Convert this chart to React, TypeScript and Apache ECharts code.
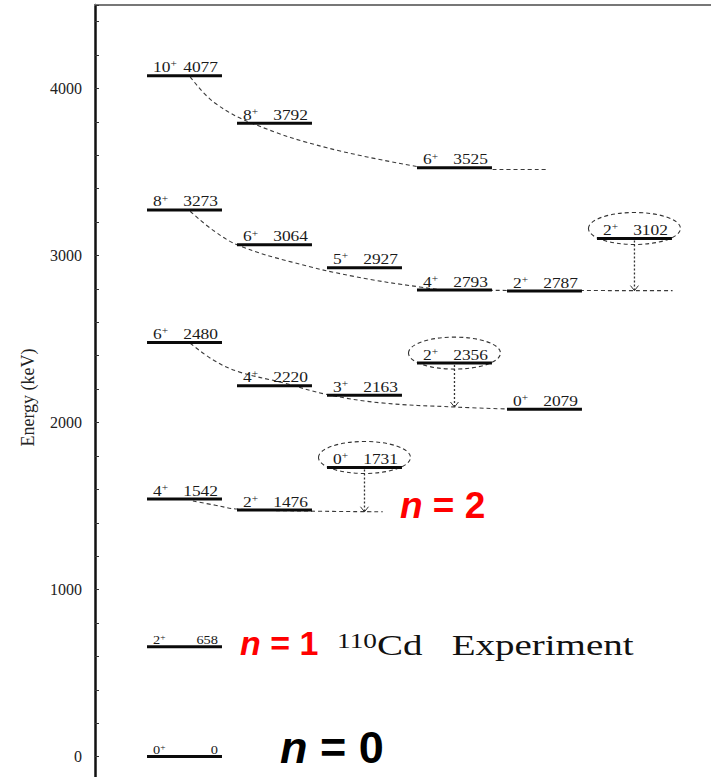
import React, { useEffect, useRef } from "react";
import * as echarts from "echarts";

// ---- Data ----
const levelCols = [0, 0, 0, 0, 0, 0, 1, 1, 1, 1, 2, 2, 2, 3, 3, 3, 4, 4, 5];
const levelEnergies = [0, 658, 1542, 2480, 3273, 4077, 1476, 2220, 3064, 3792, 1731, 2163, 2927, 2356, 2793, 3525, 2079, 2787, 3102];
const levelSpins = ["0", "2", "4", "6", "8", "10", "2", "4", "6", "8", "0", "3", "5", "2", "4", "6", "0", "2", "2"];

// circled levels and the energy their dotted decay line ends at
const circledCols = [2, 3, 5];
const circledEnergies = [1731, 2356, 3102];
const decayEndEnergies = [1466, 2093, 2790];

// dashed band curves: [column position, energy keV]
const band1 = [[0.48, 4070], [0.75, 3915], [1.2, 3785], [2.0, 3645], [3.03, 3530]];
const band1Tail = [[3.84, 3515], [4.44, 3515]];
const band2 = [[0.48, 3265], [0.75, 3145], [1.03, 3058], [1.6, 2962], [2.3, 2875], [3.03, 2812], [3.4, 2792], [5.84, 2790]];
const band3 = [[0.48, 2475], [0.75, 2370], [1.03, 2302], [1.5, 2240], [2.0, 2168], [2.6, 2118], [3.42, 2093], [4.01, 2081]];
const band4 = [[0.51, 1530], [0.76, 1505], [1.0, 1482], [1.8, 1470], [2.62, 1466]];

const yTickLabels = [0, 1000, 2000, 3000, 4000];

const LEVEL_W = 0.833;

export default function App() {
  const ref = useRef<HTMLDivElement>(null);
  useEffect(() => {
    if (!ref.current) return;
    const chart = echarts.init(ref.current, null, { renderer: "svg" });
    const serif = "Liberation Serif";
    const sans = "Liberation Sans";

    const dashLine = (data: number[][]) => ({
      type: "line",
      data,
      smooth: 0.4,
      symbol: "none",
      silent: true,
      lineStyle: { color: "#3a3a3a", width: 1.1, type: [4, 3] },
      z: 2,
    });

    const option: any = {
      animation: false,
      backgroundColor: "#ffffff",
      grid: { left: 95, right: 0, top: 5, bottom: 20 },
      xAxis: {
        type: "value",
        position: "top",
        min: -0.578,
        max: 6.267,
        axisLine: { show: true, onZero: false, lineStyle: { color: "#777", width: 2 } },
        axisTick: { show: false },
        axisLabel: { show: false },
        splitLine: { show: false },
      },
      yAxis: {
        type: "value",
        min: -200,
        max: 4500,
        interval: 200,
        name: "Energy (keV)",
        nameLocation: "middle",
        nameRotate: 90,
        nameGap: 58,
        nameTextStyle: { fontFamily: serif, fontSize: 18, color: "#222" },
        axisLine: { show: true, onZero: false, lineStyle: { color: "#111", width: 2.5 } },
        axisTick: { show: true, inside: true, length: 4, lineStyle: { color: "#333", width: 1 } },
        axisLabel: {
          fontFamily: serif,
          fontSize: 16,
          color: "#222",
          margin: 13,
          formatter: (v: number) => (yTickLabels.indexOf(v) >= 0 ? String(v) : ""),
        },
        splitLine: { show: false },
      },
      series: [
        dashLine(band1),
        dashLine(band1Tail),
        dashLine(band2),
        dashLine(band3),
        dashLine(band4),
        {
          type: "custom",
          coordinateSystem: "cartesian2d",
          silent: true,
          z: 3,
          data: circledCols.map((c, i) => [c, circledEnergies[i], decayEndEnergies[i]]),
          renderItem: (params: any, api: any) => {
            const c = api.value(0);
            const e = api.value(1);
            const e2 = api.value(2);
            const mid = c + LEVEL_W / 2;
            const top = api.coord([mid, e]);
            const bot = api.coord([mid, e2]);
            return {
              type: "group",
              children: [
                {
                  type: "ellipse",
                  shape: { cx: top[0], cy: top[1] - 10, rx: 46, ry: 16 },
                  style: { fill: "none", stroke: "#333", lineWidth: 1.1, lineDash: [4, 3] },
                },
                {
                  type: "line",
                  shape: { x1: top[0], y1: top[1] + 2, x2: bot[0], y2: bot[1] },
                  style: { stroke: "#333", lineWidth: 1.3, lineDash: [2, 2] },
                },
                {
                  type: "polyline",
                  shape: { points: [[bot[0] - 4, bot[1] - 5], [bot[0], bot[1]], [bot[0] + 4, bot[1] - 5]] },
                  style: { fill: "none", stroke: "#333", lineWidth: 1 },
                },
              ],
            };
          },
        },
        {
          type: "custom",
          coordinateSystem: "cartesian2d",
          silent: true,
          z: 4,
          data: levelCols.map((c, i) => [c, levelEnergies[i]]),
          renderItem: (params: any, api: any) => {
            const c = api.value(0);
            const e = api.value(1);
            const spin = levelSpins[params.dataIndex];
            const p1 = api.coord([c, e]);
            const p2 = api.coord([c + LEVEL_W, e]);
            const small = e < 1000;
            const fs = small ? 12 : 14.5;
            return {
              type: "group",
              children: [
                {
                  type: "rect",
                  shape: { x: p1[0], y: p1[1] - 1.5, width: p2[0] - p1[0], height: 3 },
                  style: { fill: "#0a0a0a" },
                },
                {
                  type: "text",
                  x: p1[0] + 6,
                  y: p1[1] - 1,
                  scaleX: 1.2,
                  style: {
                    text: `{n|${spin}}{p|+}`,
                    align: "left",
                    verticalAlign: "bottom",
                    rich: {
                      n: { fontFamily: serif, fontSize: fs, fill: "#1a1a1a", color: "#1a1a1a", verticalAlign: "bottom" },
                      p: { fontFamily: serif, fontSize: fs * 0.65, fill: "#1a1a1a", color: "#1a1a1a", verticalAlign: "top" },
                    },
                  },
                },
                {
                  type: "text",
                  x: p2[0] - 4,
                  y: p1[1] - 1,
                  scaleX: 1.2,
                  style: {
                    text: String(e),
                    align: "right",
                    verticalAlign: "bottom",
                    fontFamily: serif,
                    fontSize: fs,
                    fill: "#1a1a1a",
                  },
                },
              ],
            };
          },
        },
      ],
      graphic: [
        {
          type: "text",
          left: 400,
          top: 487,
          style: {
            text: "{i|n}{b| = 2}",
            rich: {
              i: { fontFamily: sans, fontSize: 37, fontWeight: "bold", fontStyle: "italic", fill: "#ff0000", color: "#ff0000" },
              b: { fontFamily: sans, fontSize: 37, fontWeight: "bold", fill: "#ff0000", color: "#ff0000" },
            },
          },
        },
        {
          type: "text",
          left: 240,
          top: 626,
          style: {
            text: "{i|n}{b| = 1}",
            rich: {
              i: { fontFamily: sans, fontSize: 34, fontWeight: "bold", fontStyle: "italic", fill: "#ff0000", color: "#ff0000" },
              b: { fontFamily: sans, fontSize: 34, fontWeight: "bold", fill: "#ff0000", color: "#ff0000" },
            },
          },
        },
        {
          type: "text",
          left: 337,
          top: 630,
          scaleX: 1.3,
          style: {
            text: "{s|110}{t|Cd   Experiment}",
            rich: {
              s: { fontFamily: serif, fontSize: 21, fill: "#111", color: "#111", verticalAlign: "top" },
              t: { fontFamily: serif, fontSize: 30, fill: "#111", color: "#111", verticalAlign: "bottom" },
            },
          },
        },
        {
          type: "text",
          left: 280,
          top: 725,
          style: {
            text: "{i|n}{b| = 0}",
            rich: {
              i: { fontFamily: sans, fontSize: 45, fontWeight: "bold", fontStyle: "italic", fill: "#000", color: "#000" },
              b: { fontFamily: sans, fontSize: 45, fontWeight: "bold", fill: "#000", color: "#000" },
            },
          },
        },
      ],
    };
    chart.setOption(option);
    return () => chart.dispose();
  }, []);
  return (
    <div
      ref={ref}
      style={{ position: "fixed", left: 0, top: 0, width: 711, height: 810, background: "#fff" }}
    />
  );
}
